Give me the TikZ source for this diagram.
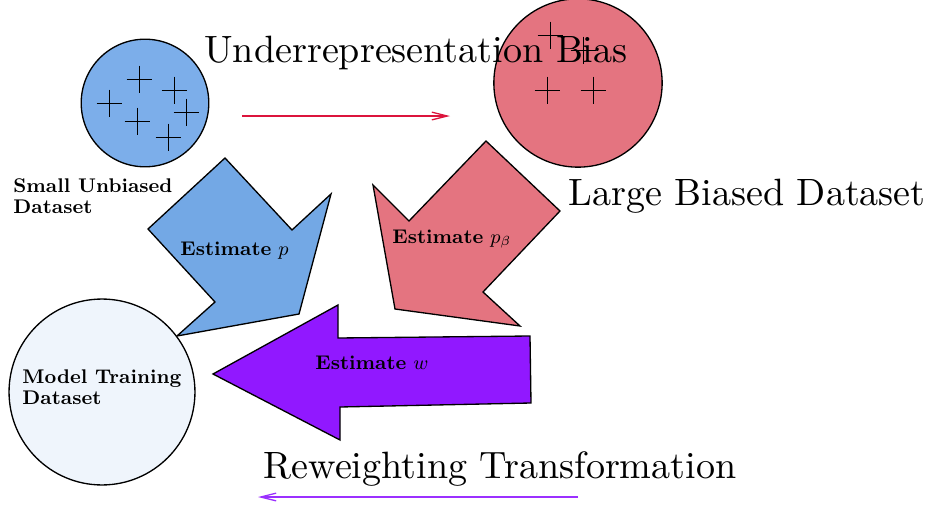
\documentclass[tikz,border=0pt]{standalone}
\usepackage{amsmath}
\usetikzlibrary{arrows.meta}
\definecolor{smallblue}{RGB}{124,174,234}
\definecolor{arrowblue}{RGB}{115,168,229}
\definecolor{biasred}{RGB}{228,116,128}
\definecolor{wpurple}{RGB}{145,24,255}
\definecolor{modelfill}{RGB}{239,245,252}
\definecolor{linered}{RGB}{220,20,60}
\definecolor{linepurple}{RGB}{155,48,255}
\newcommand{\crossmark}[2]{\draw[thin] (#1,#2) +(-12.5,0) -- +(12.5,0) +(0,-13.5) -- +(0,13.5);}
\newcommand{\bigtext}[1]{\scalebox{1.73}{#1}}
\tikzset{
  dataset/.style={circle, draw, semithick, inner sep=0pt},
  bigarrow/.style={draw, semithick},
  estlabel/.style={font=\small, inner sep=0pt, anchor=base west},
  setlabel/.style={font={\fontsize{9}{9.5}\selectfont\bfseries}, align=left, inner sep=0pt, anchor=north west},
  biglabel/.style={font=\normalsize, inner sep=0pt, anchor=base}
}

\begin{document}
\begin{tikzpicture}[x=0.4545pt, y=-0.4545pt]
\useasboundingbox (0,0) rectangle (931,507);

% the two source datasets
\node[dataset, fill=smallblue, minimum size=58pt] (small) at (145,103) {};
\node[dataset, fill=biasred, minimum size=76.5pt] (large) at (578,83) {};
\foreach \x/\y in {139/79, 174/90, 109/103, 186/112, 137/121, 168/137, 550/35, 583/50, 547/90, 593/90}
  {\crossmark{\x}{\y}}

% block arrows
\draw[bigarrow, fill=arrowblue] (225,158) -- (292,230) -- (331,194) -- (299,314) -- (177,336) -- (215,302) -- (148,229) -- cycle;
\draw[bigarrow, fill=biasred] (486,141) -- (560,211) -- (483,292) -- (520,326) -- (395,309) -- (373,185) -- (409,221) -- cycle;
\draw[bigarrow, fill=wpurple] (213,374) -- (338,305) -- (338,338) -- (530,336) -- (531,403) -- (340,407) -- (340,440) -- cycle;

\node[dataset, fill=modelfill, minimum size=84.5pt] (model) at (102,392) {};

\node[setlabel] (smalltxt) at (13,178) {Small Unbiased\\Dataset};
\node[setlabel] (modeltxt) at (22,369) {Model Training\\Dataset};

\node[estlabel] (estp) at (180,255) {\textbf{Estimate} $p$};
\node[estlabel] (estpb) at (392,243) {\textbf{Estimate} $p_\beta$};
\node[estlabel] (estw) at (315,369) {\textbf{Estimate} $w$};

\node[biglabel] (biastxt) at (416,62) {\bigtext{Underrepresentation Bias}};
\node[biglabel] (largetxt) at (747,205) {\bigtext{Large Biased Dataset}};
\node[biglabel] (rwtxt) at (500,478) {\bigtext{Reweighting Transformation}};

% thin arrows
\coordinate (bias-from) at (242,116);
\coordinate (bias-to) at (450,116);
\coordinate (rw-from) at (578,497);
\coordinate (rw-to) at (258,497);
\draw[linered, semithick, -{Straight Barb[length=7pt,width=3.5pt]}] (bias-from) -- (bias-to);
\draw[linepurple, semithick, -{Straight Barb[length=7pt,width=3.5pt]}] (rw-from) -- (rw-to);

\end{tikzpicture}
\end{document}
